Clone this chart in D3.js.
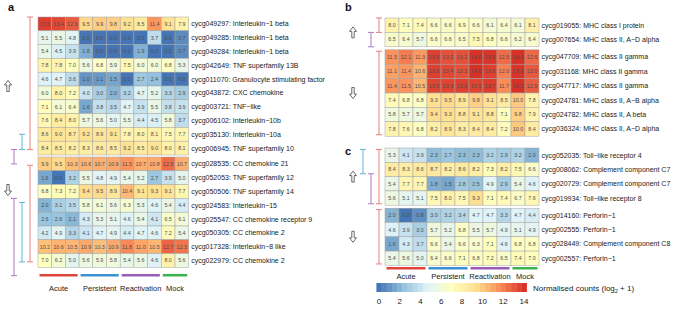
<!DOCTYPE html>
<html><head><meta charset="utf-8">
<script src="https://cdn.jsdelivr.net/npm/d3@7"></script>
<style>body{margin:0;background:#fff}svg{display:block;font-family:"Liberation Sans",Arial,sans-serif}</style>
</head><body><svg id="chart" width="685" height="309"></svg>
<script>
// ---------- data ----------
const groups = ["Acute", "Persistent", "Reactivation", "Mock"];
const groupSizes = [3, 3, 3, 2];
const groupColors = ["#e0453b", "#3b8fd4", "#9a5cba", "#3cb44b"];
const legendTicks = [0, 2, 4, 6, 8, 10, 12, 14];
const legendTitle = "Normalised counts (log";

const genesA = [
  "cycg049297: Interleukin\u22121 beta",
  "cycg049285: Interleukin\u22121 beta",
  "cycg049284: Interleukin\u22121 beta",
  "cycg042649: TNF superfamily 13B",
  "cycg011070: Granulocyte stimulating factor",
  "cycg043872: CXC chemokine",
  "cycg003721: TNF\u2212like",
  "cycg006102: Interleukin\u221210b",
  "cycg035130: Interleukin\u221210a",
  "cycg006945: TNF superfamily 10",
  "cycg028535: CC chemokine 21",
  "cycg052053: TNF superfamily 12",
  "cycg050506: TNF superfamily 14",
  "cycg024583: Interleukin\u221215",
  "cycg025547: CC chemokine receptor 9",
  "cycg050305: CC chemokine 2",
  "cycg017328: Interleukin\u22128 like",
  "cycg022979: CC chemokine 2"
];
const valuesA = [
  [13.6, 13.4, 12.9, 9.5, 9.9, 9.8, 9.2, 8.5, 11.4, 9.1, 7.9],
  [5.1, 5.5, 4.8, 0.0, 0.0, 0.0, 0.0, 0.0, 3.7, 0.0, 0.7],
  [5.4, 4.5, 3.9, 1.8, 0.0, 0.0, 0.0, 1.9, 0.0, 0.0, 0.7],
  [7.8, 7.8, 7.0, 5.6, 6.8, 5.9, 7.5, 6.0, 6.0, 6.8, 5.3],
  [4.6, 4.7, 3.6, 1.0, 1.1, 1.5, 0.0, 2.7, 2.4, 0.0, 0.0],
  [6.0, 8.0, 7.2, 4.0, 3.0, 2.0, 3.2, 4.7, 5.2, 3.3, 2.9],
  [7.1, 6.1, 6.4, 1.6, 3.8, 3.5, 4.7, 3.9, 5.5, 3.8, 3.9],
  [7.6, 8.4, 8.0, 5.7, 5.6, 5.0, 5.5, 4.4, 4.5, 5.8, 3.7],
  [8.6, 9.0, 8.7, 9.2, 8.9, 9.1, 7.8, 8.0, 8.1, 7.5, 7.7],
  [8.4, 8.5, 8.2, 8.3, 8.6, 8.5, 9.2, 8.5, 9.0, 8.0, 8.1],
  [9.9, 9.5, 10.3, 10.6, 10.7, 10.9, 11.5, 10.7, 10.8, 12.5, 10.7],
  [1.6, 0.0, 3.2, 5.5, 4.8, 4.9, 5.4, 5.2, 2.7, 3.9, 5.0],
  [6.8, 7.3, 7.2, 9.4, 9.5, 8.9, 10.4, 9.1, 9.3, 9.1, 7.7],
  [2.0, 3.1, 3.5, 5.8, 6.1, 5.6, 6.3, 5.3, 4.6, 5.4, 4.4],
  [2.6, 2.6, 2.1, 4.3, 5.3, 5.1, 4.6, 5.4, 4.1, 6.5, 6.1],
  [4.2, 4.9, 3.3, 4.1, 4.7, 4.9, 4.4, 4.7, 4.6, 7.2, 5.4],
  [10.2, 10.6, 10.5, 10.9, 10.3, 10.9, 11.8, 11.0, 10.5, 12.7, 12.3],
  [7.0, 6.2, 5.0, 5.6, 5.9, 5.8, 5.4, 5.6, 4.6, 8.0, 5.6]
];

const genesB = [
  "cycg019055: MHC class I protein",
  "cycg007654: MHC class II, A\u2212D alpha",
  "cycg047709: MHC class II gamma",
  "cycg031168: MHC class II gamma",
  "cycg047717: MHC class II gamma",
  "cycg024781: MHC class II, A\u2212B alpha",
  "cycg024782: MHC class II, A beta",
  "cycg036324: MHC class II, A\u2212D alpha"
];
const valuesB = [
  [8.0, 7.1, 7.4, 6.6, 6.6, 6.9, 6.6, 6.1, 6.4, 6.1, 8.1],
  [6.5, 6.4, 5.7, 6.6, 6.6, 6.5, 7.5, 6.8, 6.6, 6.2, 6.4],
  [11.5, 12.1, 11.3, 13.6, 13.2, 13.2, 14.0, 13.9, 12.5, 14.1, 12.6],
  [11.1, 11.4, 10.6, 13.6, 13.4, 13.2, 14.0, 13.6, 12.0, 13.9, 13.0],
  [11.4, 11.5, 10.5, 13.5, 13.5, 13.6, 13.5, 13.7, 11.7, 14.2, 12.9],
  [7.4, 6.8, 6.8, 9.3, 9.5, 8.9, 9.8, 9.1, 8.5, 10.0, 7.8],
  [5.8, 5.7, 5.7, 9.4, 9.3, 8.8, 9.1, 8.8, 7.1, 9.8, 7.9],
  [7.8, 7.6, 6.8, 8.2, 8.9, 8.3, 8.4, 8.4, 7.2, 10.0, 8.4]
];

const genesC = [
  "cycg052035: Toll\u2212like receptor 4",
  "cycg008062: Complement component C7",
  "cycg020729: Complement component C7",
  "cycg019934: Toll\u2212like receptor 8",
  "cycg014160: Perforin\u22121",
  "cycg002555: Perforin\u22121",
  "cycg028449: Complement component C8",
  "cycg002557: Perforin\u22121"
];
const valuesC = [
  [5.3, 4.1, 3.9, 2.3, 2.7, 2.3, 2.3, 3.2, 2.9, 3.2, 2.0],
  [8.4, 8.3, 8.6, 8.7, 8.2, 8.6, 8.2, 7.3, 8.2, 7.5, 6.6],
  [5.4, 7.7, 7.7, 1.8, 1.5, 2.8, 2.5, 4.9, 2.9, 5.4, 4.6],
  [5.6, 5.1, 5.1, 7.5, 8.0, 7.5, 9.3, 7.1, 7.4, 6.7, 7.6],
  [2.0, 0.0, 0.8, 3.0, 3.2, 3.4, 4.7, 4.7, 3.3, 4.7, 4.4],
  [4.6, 3.9, 3.0, 5.7, 5.2, 6.8, 5.5, 5.7, 4.9, 5.1, 4.9],
  [1.6, 4.3, 3.7, 6.6, 5.4, 6.6, 6.3, 7.1, 4.6, 6.8, 6.8],
  [5.4, 5.6, 5.0, 6.4, 6.6, 7.1, 6.8, 7.2, 6.5, 7.4, 7.0]
];

// row-group splits (number of up-regulated rows) and bracket annotations in row units
const splitA = 10, splitB = 2, splitC = 4;
const bracketsA = [
  {g: "red", from: 0, to: 9.6, lane: 0},
  {g: "blue", from: 8.5, to: 9.6, lane: 1},
  {g: "purple", from: 9.6, to: 10.5, lane: 2},
  {g: "red", from: 10.6, to: 17.6, lane: 0},
  {g: "blue", from: 13.3, to: 17.6, lane: 1},
  {g: "purple", from: 13.0, to: 18.6, lane: 2}
];
const bracketsB = [
  {g: "red", from: 0, to: 1, lane: 0},
  {g: "purple", from: 1, to: 2, lane: 1},
  {g: "red", from: 2.1, to: 7.9, lane: 0}
];
const bracketsC = [
  {g: "red", from: 0.1, to: 3.9, lane: 0},
  {g: "purple", from: 1.8, to: 3.9, lane: 1},
  {g: "blue", from: 0.1, to: 1.8, lane: 2},
  {g: "red", from: 4.1, to: 7.9, lane: 0}
];
const bracketColors = {red: "#ea7f79", blue: "#5fb3de", purple: "#ad78c6"};

// ---------- drawing ----------
const svg = d3.select("#chart");
const color = d3.scaleLinear()
  .domain(d3.range(7).map(i => i * 14 / 6))
  .range(["#4575b4", "#91bfdb", "#e0f3f8", "#ffffbf", "#fee090", "#fc8d59", "#d73027"])
  .clamp(true);
const nCols = d3.sum(groupSizes);

function arrow(g, cx, cy, up) {
  // hollow block arrow, 7 wide x 11 tall
  const s = up ? -1 : 1;
  const pts = [[0, 5.5 * s], [3.5, 1 * s], [1.2, 1 * s], [1.2, -5.5 * s], [-1.2, -5.5 * s], [-1.2, 1 * s], [-3.5, 1 * s]];
  g.append("path").attr("d", d3.line()(pts.map(p => [cx + p[0], cy + p[1]])) + "Z")
    .attr("fill", "#fff").attr("stroke", "#444").attr("stroke-width", 0.8).attr("stroke-linejoin", "miter");
}

function heatmap(cfg) {
  const g = svg.append("g");
  const x = d3.scaleBand().domain(d3.range(nCols)).range([cfg.x0, cfg.x0 + nCols * cfg.cw]);
  const yRow = r => cfg.y0 + r * cfg.rh + (r >= cfg.split ? cfg.gap : 0);
  const yFrac = f => cfg.y0 + f * cfg.rh + (f > cfg.split ? cfg.gap : 0);
  cfg.values.forEach((row, r) => {
    row.forEach((v, c) => {
      g.append("rect").attr("x", x(c)).attr("y", yRow(r))
        .attr("width", x.bandwidth()).attr("height", cfg.rh)
        .attr("fill", color(v)).attr("stroke", "#a3a3a3").attr("stroke-width", 0.5);
      g.append("text").attr("x", x(c) + x.bandwidth() / 2).attr("y", yRow(r) + cfg.rh / 2)
        .attr("dy", "0.35em").attr("text-anchor", "middle")
        .attr("font-size", 5.3).attr("fill", "#4d4d4d").text(v.toFixed(1));
    });
    g.append("text").attr("x", cfg.x0 + nCols * cfg.cw + 2.5).attr("y", yRow(r) + cfg.rh / 2)
      .attr("dy", "0.35em").attr("font-size", 7).attr("fill", "#1a1a1a").text(cfg.genes[r]);
  });
  // brackets
  cfg.brackets.forEach(b => {
    const bx = cfg.bx - b.lane * 8;
    const ya = yFrac(b.from), yb = yFrac(b.to);
    const col = bracketColors[b.g];
    g.append("line").attr("x1", bx).attr("x2", bx).attr("y1", ya).attr("y2", yb).attr("stroke", col).attr("stroke-width", 1);
    [ya, yb].forEach(yy => g.append("line").attr("x1", bx - 3).attr("x2", bx + 3).attr("y1", yy).attr("y2", yy).attr("stroke", col).attr("stroke-width", 1));
  });
  // arrows
  const n = cfg.values.length;
  const upMid = (yRow(0) + yRow(cfg.split - 1) + cfg.rh) / 2;
  const dnMid = cfg.downY !== undefined ? cfg.downY : (yRow(cfg.split) + yRow(n - 1) + cfg.rh) / 2;
  arrow(g, cfg.ax, upMid, true);
  arrow(g, cfg.ax, dnMid, false);
  // panel letter
  g.append("text").attr("x", cfg.lx).attr("y", cfg.ly).attr("font-size", 11).attr("font-weight", "bold").attr("fill", "#111").text(cfg.letter);
  // group bars
  if (cfg.barY !== undefined) {
    let start = 0;
    groupSizes.forEach((s, i) => {
      const xa = x(start) + 1.5, xb = x(start + s - 1) + x.bandwidth() - 1.5;
      g.append("rect").attr("x", xa).attr("y", cfg.barY).attr("width", xb - xa).attr("height", 2.5).attr("fill", groupColors[i]);
      g.append("text").attr("x", (xa + xb) / 2).attr("y", cfg.barY + cfg.labOff).attr("text-anchor", "middle")
        .attr("font-size", 7.5).attr("fill", "#1a1a1a").text(groups[i]);
      start += s;
    });
  }
}

heatmap({letter: "a", lx: 8, ly: 11, genes: genesA, values: valuesA, split: splitA,
  x0: 38, cw: 13.7, y0: 17, rh: 13.8, gap: 2, bx: 30, ax: 8, downY: 190,
  brackets: bracketsA, barY: 274, labOff: 17});
heatmap({letter: "b", lx: 345, ly: 11, genes: genesB, values: valuesB, split: splitB,
  x0: 385, cw: 14, y0: 18, rh: 14.4, gap: 3, bx: 379, ax: 353,
  brackets: bracketsB});
heatmap({letter: "c", lx: 345, ly: 155, genes: genesC, values: valuesC, split: splitC,
  x0: 385, cw: 14, y0: 148, rh: 14.3, gap: 3, bx: 379, ax: 353,
  brackets: bracketsC, barY: 267, labOff: 11.5});

// legend
const lx = d3.scaleLinear().domain([0, 14]).range([379, 524]);
const steps = d3.range(-0.25, 14.25, 0.5);
svg.append("g").selectAll("rect").data(steps).join("rect")
  .attr("x", d => lx(d)).attr("y", 283).attr("width", lx(0.5) - lx(0) + 0.3).attr("height", 9)
  .attr("fill", d => color(d + 0.25));
svg.append("g").selectAll("text").data(legendTicks).join("text")
  .attr("x", d => lx(d)).attr("y", 304).attr("text-anchor", "middle")
  .attr("font-size", 8).attr("fill", "#1a1a1a").text(d => d);
const lt = svg.append("text").attr("x", 533).attr("y", 291).attr("font-size", 8).attr("fill", "#1a1a1a");
lt.append("tspan").text(legendTitle);
lt.append("tspan").attr("font-size", 5.5).attr("dy", 2).text("2");
lt.append("tspan").attr("dy", -2).text(" + 1)");
</script></body></html>
